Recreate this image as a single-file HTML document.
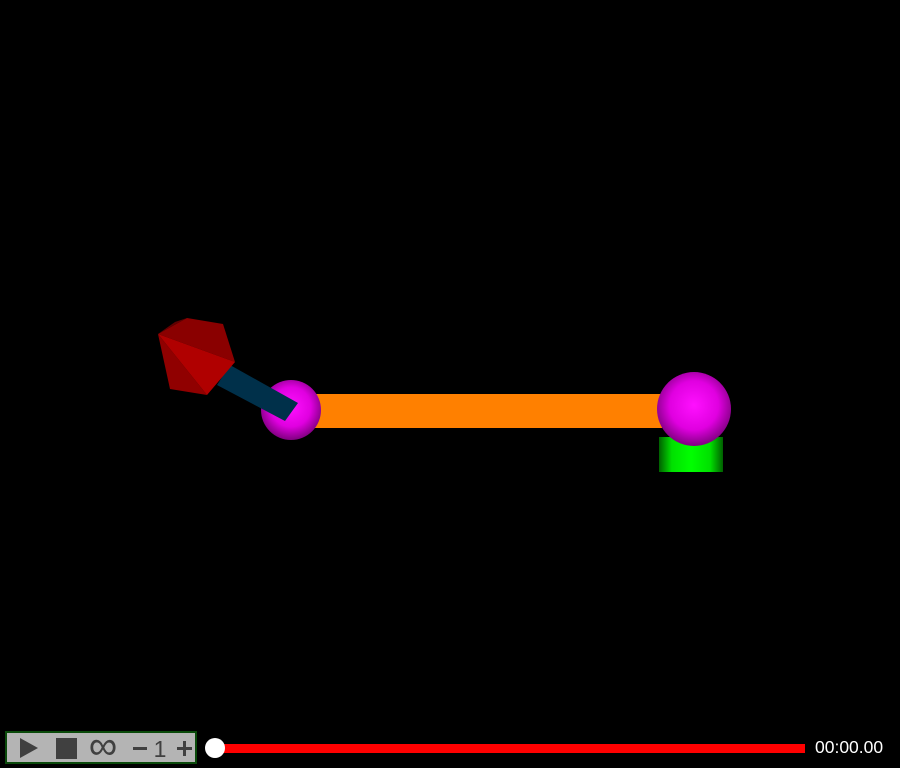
<!DOCTYPE html>
<html><head><meta charset="utf-8"><style>
html,body{margin:0;padding:0;background:#000;width:900px;height:768px;overflow:hidden}
</style></head><body>
<svg width="900" height="768" viewBox="0 0 900 768" style="position:absolute;left:0;top:0">
<defs>
<radialGradient id="sph" cx="0.5" cy="0.45" r="0.55">
<stop offset="0" stop-color="#ff10ff"/><stop offset="0.6" stop-color="#e000e0"/><stop offset="1" stop-color="#800080"/>
</radialGradient>
<linearGradient id="cyl" x1="0" x2="1" y1="0" y2="0">
<stop offset="0" stop-color="#006000"/><stop offset="0.2" stop-color="#00e000"/><stop offset="0.5" stop-color="#00ff00"/><stop offset="0.8" stop-color="#00e000"/><stop offset="1" stop-color="#006000"/>
</linearGradient>
</defs>
<rect x="310" y="394" width="352" height="34" fill="#ff8000"/>
<rect x="659" y="437" width="64" height="35" fill="url(#cyl)"/>
<circle cx="694" cy="409" r="37" fill="url(#sph)"/>
<circle cx="291" cy="410" r="30" fill="url(#sph)"/>
<polygon points="230,365 298,403 285,421 217,385" fill="#00304a"/>
<g>
<polygon points="158,334 187,318 223,324 235,362" fill="#8a0000"/>
<polygon points="158,334 170,389 207,395" fill="#900000"/>
<polygon points="158,334 235,362 207,395" fill="#b00000"/>
<polygon points="158,334 187,318 175,322" fill="#600000"/>
</g>
</svg>
<div style="position:absolute;left:5px;top:731px;width:188px;height:29px;background:#b4b4b4;border:2px solid #0a4a0a;font-family:'Liberation Sans',sans-serif;color:#404040">
<svg width="188" height="29" style="position:absolute;left:0;top:0">
<polygon points="13,5 13,25 31,15" fill="#404040"/>
<rect x="49" y="5" width="21" height="21" fill="#404040"/>
<text x="96" y="26" font-size="40" text-anchor="middle" fill="#404040" font-family="Liberation Sans,sans-serif">∞</text>
<rect x="126" y="14" width="14" height="3" fill="#404040"/>
<text x="153" y="24" font-size="23" text-anchor="middle" fill="#404040" font-family="Liberation Sans,sans-serif">1</text>
<g><rect x="170" y="14" width="15" height="3" fill="#404040"/><rect x="176" y="8" width="3" height="15" fill="#404040"/></g>
</svg>
</div>
<div style="position:absolute;left:215px;top:744px;width:590px;height:9px;background:#ff0000"></div>
<div style="position:absolute;left:205px;top:738px;width:20px;height:20px;border-radius:50%;background:#fff"></div>
<div style="position:absolute;left:815px;top:737px;font-family:'Liberation Sans',sans-serif;font-size:17.5px;color:#fff">00:00.00</div>
</body></html>
